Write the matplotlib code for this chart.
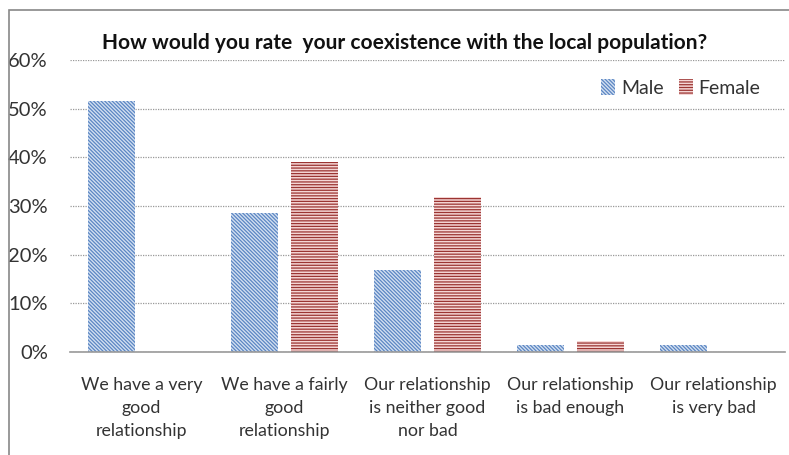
import matplotlib.pyplot as plt
import numpy as np
from matplotlib.patches import Rectangle

categories = [
    "We have a very\ngood\nrelationship",
    "We have a fairly\ngood\nrelationship",
    "Our relationship\nis neither good\nnor bad",
    "Our relationship\nis bad enough",
    "Our relationship\nis very bad",
]
male = [51.5, 28.5, 16.8, 1.4, 1.4]
female = [0.0, 39.0, 31.8, 2.2, 0.0]
yticks = [0, 10, 20, 30, 40, 50, 60]

plt.rcParams["font.family"] = ["Lato", "DejaVu Sans"]
plt.rcParams["hatch.linewidth"] = 0.9

fig = plt.figure(figsize=(7.89, 4.55), dpi=100)
ax = fig.add_axes([70 / 789, 1 - 352 / 455, 715 / 789, 292 / 455])

# chart frame (cropped on right/bottom)
fig.patches.append(Rectangle((9 / 789, -0.1), 1.2, 1 - 10 / 455 + 0.1,
                             transform=fig.transFigure, fill=False,
                             edgecolor="#888888", linewidth=1.2))

x = np.arange(len(categories))
w = 0.335
ax.bar(x - 0.21, male, w, facecolor="#d3e0f1", edgecolor="#5b86c3",
       hatch="\\" * 9, linewidth=0, label="Male")
ax.bar(x + 0.21, female, w, facecolor="#f5d6d5", edgecolor="#9b3432",
       hatch="-" * 6, linewidth=0, label="Female")

ax.set_xlim(-0.5, len(categories) - 0.5)
ax.set_ylim(0, 60)
ax.set_yticks(yticks)
ax.set_yticklabels([f"{v}%" for v in yticks], fontsize=14.5)
ax.yaxis.grid(True, linestyle=(0, (1, 1)), color="#999999", linewidth=0.9)
ax.set_axisbelow(True)
for s in ["left", "right", "top"]:
    ax.spines[s].set_visible(False)
ax.spines["bottom"].set_color("#999999")
ax.spines["bottom"].set_linewidth(1.2)
ax.tick_params(axis="both", length=0, labelcolor="#333333")
ax.tick_params(axis="y", pad=16)
ax.tick_params(axis="x", pad=18)
ax.set_xticks(x)
ax.set_xticklabels(categories, fontsize=12.8, linespacing=1.55)

fig.text(0.513, 1 - 43 / 455, "How would you rate  your coexistence with the local population?",
         ha="center", va="center", fontsize=15, fontweight="bold", color="#111111")

ax.legend(loc="upper right", bbox_to_anchor=(0.99, 0.995), frameon=False,
          ncol=2, fontsize=14, handlelength=0.7, handleheight=0.9,
          handletextpad=0.3, columnspacing=0.8, labelcolor="#333333")

fig.savefig("out.png", dpi=100)
